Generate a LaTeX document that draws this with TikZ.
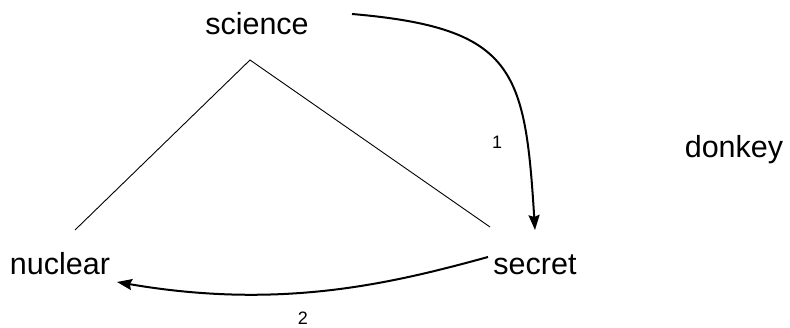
\documentclass[tikz,border=0pt]{standalone}
\usepackage{fontspec}
\setmainfont{Liberation Sans}
\usetikzlibrary{arrows.meta}
\begin{document}
\begin{tikzpicture}[x=1pt,y=-1pt,
  word/.style={font=\fontsize{30.5}{36}\selectfont, inner sep=0pt, anchor=base},
  lbl/.style={font=\fontsize{18}{21}\selectfont, inner sep=0pt},
  arr/.style={line width=2pt, -{Stealth[length=15pt,width=11pt,inset=2pt]}},
  thinline/.style={line width=0.9pt}]
\useasboundingbox (0,0) rectangle (790,328);
\node[word] (science) at (257,35) {science};
\node[word] (nuclear) at (60,275) {nuclear};
\node[word] (secret) at (535,275) {secret};
\node[word] (donkey) at (734,158) {donkey};
\coordinate (apex) at (250,60);
\coordinate (nl) at (75,230);
\coordinate (sr) at (490,227);
\draw[thinline] (nl) -- (apex) -- (sr);
\coordinate (a1s) at (352,14);
\coordinate (a1e) at (535,230);
\draw[arr] (a1s) .. controls (515,28) and (525,70) .. (a1e);
\node[lbl] (l1) at (497,142) {1};
\coordinate (a2s) at (488,257);
\coordinate (a2e) at (117,282);
\draw[arr] (a2s) .. controls (390,284) and (280,310) .. (a2e);
\node[lbl] (l2) at (303,318) {2};
\end{tikzpicture}
\end{document}
